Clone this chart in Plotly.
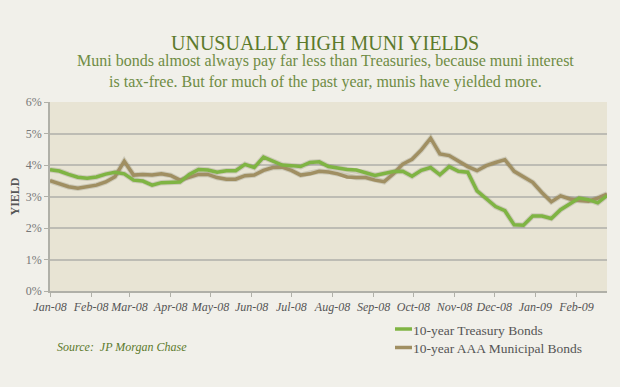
import plotly.graph_objects as go
import pandas as pd

# Weekly observations, 2008-01-01 .. 2009-02-24
dates = pd.date_range("2008-01-01", periods=61, freq="7D")

treasury = [3.85, 3.81, 3.70, 3.61, 3.58, 3.62, 3.71, 3.77, 3.72, 3.52,
            3.49, 3.36, 3.44, 3.46, 3.46, 3.70, 3.86, 3.84, 3.77, 3.82,
            3.82, 4.02, 3.92, 4.25, 4.13, 4.00, 3.98, 3.95, 4.08, 4.10,
            3.95, 3.90, 3.86, 3.84, 3.76, 3.67, 3.73, 3.79, 3.80, 3.64,
            3.83, 3.92, 3.69, 3.95, 3.80, 3.77, 3.18, 2.92, 2.68, 2.55,
            2.10, 2.09, 2.38, 2.38, 2.30, 2.58, 2.78, 2.95, 2.90, 2.80,
            3.03]

municipal = [3.50, 3.40, 3.31, 3.26, 3.30, 3.36, 3.46, 3.63, 4.12, 3.68,
             3.70, 3.68, 3.72, 3.67, 3.52, 3.60, 3.70, 3.70, 3.60, 3.55,
             3.55, 3.66, 3.68, 3.83, 3.92, 3.93, 3.83, 3.68, 3.72, 3.80,
             3.78, 3.72, 3.62, 3.60, 3.60, 3.52, 3.47, 3.72, 4.03, 4.18,
             4.48, 4.85, 4.35, 4.30, 4.12, 3.95, 3.82, 3.98, 4.08, 4.17,
             3.80, 3.63, 3.45, 3.12, 2.83, 3.02, 2.92, 2.87, 2.85, 2.95,
             3.08]

month_ticks = pd.date_range("2008-01-01", "2009-02-01", freq="MS")
month_labels = [d.strftime("%b-%y") for d in month_ticks]

y_ticks = [0, 1, 2, 3, 4, 5, 6]
y_labels = [f"{v}%" for v in y_ticks]

series_names = ["10-year Treasury Bonds", "10-year AAA Municipal Bonds"]
green = "#7fb443"
tan = "#a08f62"

SERIF = "Liberation Serif, DejaVu Serif, serif"


def px(x):
    return (x - 50) / 557


def py(y):
    return (291 - y) / 189


fig = go.Figure()
for vals, name in [(municipal, series_names[1]), (treasury, series_names[0])]:
    fig.add_trace(go.Scatter(x=dates, y=vals, mode="lines", name=name,
                             line=dict(color="rgba(60,60,40,0.16)", width=5.5),
                             hoverinfo="skip", showlegend=False))
for vals, name, col in [(municipal, series_names[1], tan), (treasury, series_names[0], green)]:
    fig.add_trace(go.Scatter(x=dates, y=vals, mode="lines", name=name,
                             line=dict(color=col, width=3.5), showlegend=False))

fig.update_layout(
    width=620, height=387,
    margin=dict(l=50, r=13, t=102, b=96),
    paper_bgcolor="#f1f0ea",
    plot_bgcolor="#e8e4d4",
    showlegend=False,
    font=dict(family=SERIF, color="#555555"),
    xaxis=dict(
        type="date", automargin=False,
        range=[dates[0], dates[-1]],
        tickvals=month_ticks, ticktext=month_labels, tickangle=0,
        tickfont=dict(family=SERIF, size=12, color="#555555", style="italic"),
        ticks="outside", ticklen=4, tickcolor="#b0b0a8",
        showgrid=False, showline=True, linecolor="#b0b0a8", linewidth=1.5,
        zeroline=False, fixedrange=True,
    ),
    yaxis=dict(
        range=[0, 6], tickvals=y_ticks, ticktext=y_labels, automargin=False,
        tickfont=dict(family=SERIF, size=12, color="#777777"),
        ticks="outside", ticklen=4, tickcolor="#b0b0a8",
        showgrid=True, gridcolor="#bdbcb4", gridwidth=1.5,
        showline=True, linecolor="#b0b0a8", linewidth=1.5,
        zeroline=False, fixedrange=True,
        title=dict(text="<b>YIELD</b>", font=dict(family=SERIF, size=12, color="#555555"), standoff=4),
    ),
)

# Title & subtitle
fig.add_annotation(text="UNUSUALLY HIGH MUNI YIELDS", xref="paper", yref="paper",
                   x=px(325), y=py(43), showarrow=False,
                   font=dict(family=SERIF, size=20, color="#5c7a2c"), xanchor="center", yanchor="middle")
fig.add_annotation(text="Muni bonds almost always pay far less than Treasuries, because muni interest<br>is tax-free. But for much of the past year, munis have yielded more.",
                   xref="paper", yref="paper", x=px(325), y=py(71.5),
                   showarrow=False, align="center",
                   font=dict(family=SERIF, size=16, color="#6f8c44"), xanchor="center", yanchor="middle")

# Legend (custom)
for i, (name, col) in enumerate(zip(series_names, [green, tan])):
    yy = 329 + i * 18.5
    fig.add_shape(type="line", xref="paper", yref="paper",
                  x0=px(395), x1=px(412), y0=py(yy), y1=py(yy),
                  line=dict(color=col, width=3.5))
    fig.add_annotation(text=name, xref="paper", yref="paper", x=px(411), y=py(yy + 1),
                       showarrow=False, xanchor="left", yanchor="middle",
                       font=dict(family=SERIF, size=13.5, color="#555555"))

fig.add_annotation(text="<i>Source:  JP Morgan Chase</i>", xref="paper", yref="paper",
                   x=px(55), y=py(347), showarrow=False,
                   xanchor="left", yanchor="middle",
                   font=dict(family=SERIF, size=12, color="#5c7a2c"))

fig.write_html("out.html", config={"displayModeBar": False},
               post_script="document.body.style.margin='0';")
